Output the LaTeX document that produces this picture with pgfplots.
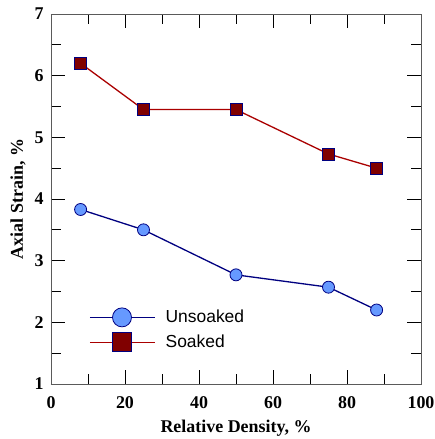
\documentclass[border=0pt]{standalone}
\usepackage{fontspec}
\setmainfont{Liberation Serif}
\newfontfamily\arialfont{Liberation Sans}
\usepackage{pgfplots}
\pgfplotsset{compat=1.18}
\definecolor{navy}{RGB}{0,0,128}
\definecolor{cblue}{RGB}{102,153,255}
\definecolor{maroonf}{RGB}{128,0,0}
\definecolor{redline}{RGB}{170,0,0}
\definecolor{framegray}{RGB}{90,90,90}
\begin{document}
\begin{tikzpicture}
\useasboundingbox (-51bp,-55bp) rectangle (384bp,384bp);
\begin{axis}[
  at={(0,0)}, anchor=south west,
  scale only axis, width=370bp, height=370bp,
  xmin=0, xmax=100, ymin=1, ymax=7,
  xtick={0,20,...,100}, ytick={1,2,...,7},
  minor xtick={10,30,50,70,90}, minor ytick={1.5,2.5,...,6.5},
  tick align=inside,
  major tick length=14bp, minor tick length=10bp,
  axis line style={framegray, line width=1pt},
  every tick/.style={black, line width=0.8pt},
  /pgf/number format/assume math mode=true,
  ticklabel style={font=\fontsize{18}{20}\selectfont\bfseries},
  xticklabel style={yshift=-9bp},
  yticklabel style={xshift=-4bp},
  xlabel={\fontsize{18}{20}\selectfont\bfseries Relative Density, \%},
  ylabel={\fontsize{18}{20}\selectfont\bfseries Axial Strain, \%},
  xlabel style={yshift=-5bp},
  ylabel style={yshift=2bp},
  legend style={at={(axis cs:9.5,2.27)}, anchor=north west, draw=none, fill=none,
    font=\arialfont\fontsize{17.5}{20}\selectfont, row sep=6bp,
    /tikz/every even column/.append style={column sep=2bp}},
  legend cell align=left,
  legend image code/.code={\draw[#1, mark size=9.5bp, mark repeat=2, mark phase=2] plot coordinates {(0bp,0bp) (32bp,0bp) (65bp,0bp)};},
]
\addplot[navy, line width=1.3pt, mark=*, mark size=6bp, mark options={fill=cblue, draw=navy, line width=0.8pt}]
  coordinates {(8,3.83) (25,3.50) (50,2.77) (75,2.57) (88,2.20)};
\addlegendentry{\hspace{8bp}Unsoaked}
\addplot[redline, line width=1.3pt, mark=square*, mark size=6bp, mark options={fill=maroonf, draw=navy, line width=0.8pt}]
  coordinates {(8,6.20) (25,5.45) (50,5.45) (75,4.73) (88,4.50)};
\addlegendentry{\hspace{8bp}Soaked}
\end{axis}
\end{tikzpicture}
\end{document}
